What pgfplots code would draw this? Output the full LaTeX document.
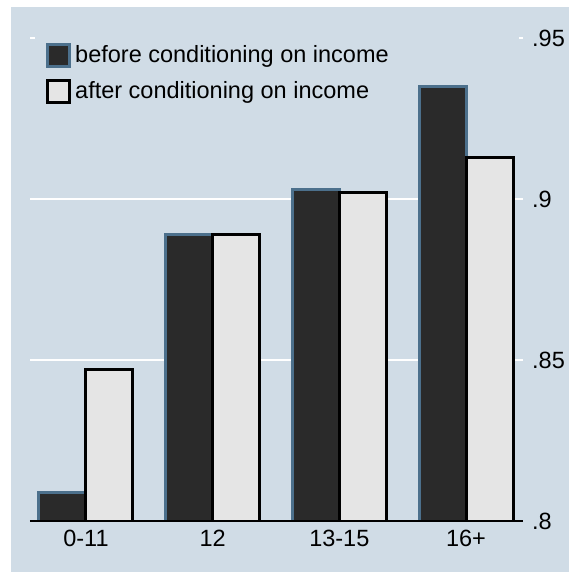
\documentclass[border=0pt]{standalone}
\usepackage{fontspec}
\setmainfont{Liberation Sans}
\usepackage{pgfplots}
\pgfplotsset{compat=1.18}

\definecolor{bgblue}{RGB}{208,220,230}
\definecolor{darkfill}{RGB}{42,42,42}
\definecolor{darkedge}{RGB}{76,112,140}
\definecolor{lightfill}{RGB}{229,229,229}
\newcommand\chartfont{\fontsize{23.5bp}{28bp}\selectfont}

\begin{document}
\begin{tikzpicture}
  \useasboundingbox (-30bp,-51bp) rectangle (539bp,521bp);
  \fill[bgblue] (-19bp,-51bp) rectangle (539bp,514bp);
  \begin{axis}[
      at={(0,0)}, anchor=south west,
      scale only axis,
      width=493bp, height=483bp,
      xmin=-0.442, xmax=3.45,
      ymin=0.8, ymax=0.95,
      clip mode=individual,
      axis line style={draw=none},
      major tick length=0pt,
      tick style={draw=none},
      xtick={0,1,2,3},
      xticklabels={0-11,12,13-15,16+},
      xticklabel style={font=\chartfont, inner sep=0pt, anchor=north, yshift=-9bp},
      ytick={0.8,0.85,0.9,0.95},
      yticklabels={.8,.85,.9,.95},
      yticklabel pos=right,
      yticklabel style={font=\chartfont, inner sep=0pt, anchor=west, xshift=9bp},
      legend style={
        at={(rel axis cs:0,1)}, anchor=north west,
        xshift=16bp, yshift=-5bp,
        draw=none, fill=none, inner sep=0pt,
        row sep=11bp, column sep=4bp,
        font=\chartfont,
        nodes={inner sep=0pt},
        cells={anchor=base west},
      },
      legend image code/.code={
        \draw[#1, line width=3bp] (1.5bp,-1.5bp) rectangle (23.5bp,20.5bp);
      },
    ]
    % white grid lines
    \draw[white, line width=2.8bp] (rel axis cs:0,0.3333) -- (rel axis cs:1,0.3333);
    \draw[white, line width=2.8bp] (rel axis cs:0,0.6667) -- (rel axis cs:1,0.6667);
    \draw[white, line width=2.5bp] (rel axis cs:0,1) -- ([xshift=5bp]rel axis cs:0,1);
    \draw[white, line width=2.5bp] (rel axis cs:1,1) -- ([xshift=-4bp]rel axis cs:1,1);

    \addplot[ybar, bar width=47bp, bar shift=-23.5bp,
      fill=darkfill, draw=darkedge, line width=3bp]
      coordinates {(0,0.809) (1,0.889) (2,0.903) (3,0.935)};
    \addlegendentry{\raisebox{3bp}{before conditioning on income}}

    \addplot[ybar, bar width=47bp, bar shift=23.5bp,
      fill=lightfill, draw=black, line width=3bp]
      coordinates {(0,0.847) (1,0.889) (2,0.902) (3,0.913)};
    \addlegendentry{\raisebox{3bp}{after conditioning on income}}

    \draw[black, line width=2.5bp] (rel axis cs:0,0) -- (rel axis cs:1,0);
  \end{axis}
\end{tikzpicture}
\end{document}
